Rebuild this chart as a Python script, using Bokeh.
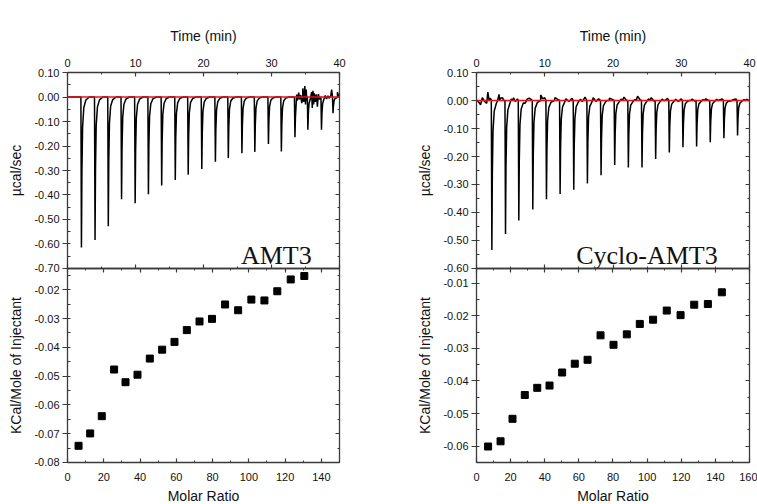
from bokeh.plotting import figure
from bokeh.models import (LinearAxis, Range1d, SingleIntervalTicker,
                          NumeralTickFormatter, CustomJSTickFormatter, Label, Span)
from bokeh.layouts import row, column
from bokeh.embed import file_html
from bokeh.resources import INLINE

# ---------------- data ----------------
# AMT3 thermogram: injection times (min) and peak minima (ucal/sec)
amt3_inj_time = [2.0, 4.0, 5.95, 7.9, 9.9, 11.85, 13.8, 15.8, 17.7, 19.7,
                 21.7, 23.6, 25.6, 27.5, 29.5, 31.4, 33.4, 35.3, 37.3, 39.0]
amt3_peak = [-0.614, -0.584, -0.528, -0.417, -0.434, -0.397, -0.361, -0.339,
             -0.317, -0.294, -0.264, -0.249, -0.230, -0.224, -0.192, -0.222,
             -0.164, -0.134, -0.134, -0.066]
amt3_noise_time = [33.7, 33.85, 34.0, 34.15, 34.3, 34.45, 34.6, 34.75, 34.9,
                   35.0, 35.1, 35.2, 35.9, 36.0, 36.1, 36.2, 36.3, 36.45,
                   36.6, 36.75, 36.9, 37.05, 37.9, 38.1, 38.3, 38.5, 38.7,
                   38.85, 39.5, 39.7, 39.9]
amt3_noise_val = [0.01, -0.012, 0.018, -0.01, 0.008, -0.025, 0.035, -0.02,
                  0.045, -0.03, 0.03, -0.015, 0.02, -0.045, 0.025, -0.03,
                  0.015, -0.02, 0.01, -0.04, 0.012, -0.01, 0.006, -0.008,
                  0.005, -0.006, 0.004, 0.03, -0.005, 0.02, 0.0]
# AMT3 integrated heats
amt3_ratio = [6.1, 12.5, 18.9, 25.7, 32.0, 38.6, 45.4, 52.2, 59.0, 65.8,
              72.8, 79.7, 86.9, 94.1, 101.4, 108.6, 115.7, 123.1, 130.6]
amt3_heat = [-0.0742, -0.0699, -0.0639, -0.0477, -0.0521, -0.0495, -0.0439,
             -0.0408, -0.0381, -0.0340, -0.0310, -0.0301, -0.0251, -0.0271,
             -0.0234, -0.0237, -0.0205, -0.0164, -0.0152]

# Cyclo-AMT3 thermogram
cyc_inj_time = [2.2, 4.2, 6.15, 8.2, 10.2, 12.2, 14.2, 16.2, 18.2, 20.2,
                22.2, 24.2, 26.2, 28.2, 30.2, 32.2, 34.2, 36.2, 38.2]
cyc_peak = [-0.534, -0.477, -0.429, -0.389, -0.353, -0.334, -0.319, -0.296,
            -0.267, -0.230, -0.239, -0.239, -0.209, -0.186, -0.167, -0.164,
            -0.149, -0.135, -0.125]
cyc_noise_time = [0.1, 0.4, 0.6, 0.85, 1.1, 1.3, 1.5, 1.66, 1.85, 2.05,
                  3.1, 3.3, 3.5, 3.8, 4.0, 5.1, 5.4, 5.7, 6.0,
                  7.1, 7.4, 7.7, 8.0, 9.1, 9.4, 9.7, 10.0,
                  11.1, 11.5, 11.9, 13.1, 13.6, 14.0, 15.2, 15.5, 15.9,
                  17.1, 17.5, 17.9, 19.1, 19.5, 19.9, 21.2, 21.6, 22.0,
                  23.2, 23.6, 24.0, 25.2, 25.6, 26.0, 27.2, 27.6, 28.0,
                  29.2, 29.6, 30.0, 31.2, 31.6, 32.0, 33.2, 33.6, 34.0,
                  35.2, 35.6, 36.0, 37.2, 37.6, 38.0, 39.2, 39.6, 39.9]
cyc_noise_val = [0.0, -0.008, -0.015, 0.01, 0.0, -0.006, -0.01, 0.03, 0.0, 0.008,
                 0.0, 0.022, 0.008, 0.01, 0.0, 0.005, 0.01, -0.004, 0.006,
                 -0.01, 0.005, 0.008, 0.004, -0.004, 0.02, 0.006, 0.01,
                 -0.004, 0.01, 0.004, 0.006, -0.003, 0.008, 0.004, -0.004, 0.012,
                 0.01, -0.003, 0.006, 0.0, 0.008, 0.004, 0.005, 0.012, 0.0,
                 0.004, 0.015, 0.002, 0.006, 0.01, -0.002, 0.005, 0.0, 0.008,
                 0.004, -0.003, 0.006, 0.0, 0.005, -0.002, 0.003, 0.006, 0.0,
                 0.004, 0.002, 0.006, -0.002, 0.003, 0.005, 0.003, 0.004, 0.0]
# Cyclo-AMT3 integrated heats
cyc_ratio = [6.8, 14.1, 21.1, 28.3, 35.6, 42.8, 50.2, 57.6, 65.1, 72.7,
             80.3, 88.1, 95.7, 103.5, 111.5, 119.6, 127.6, 135.6, 143.8]
cyc_heat = [-0.0601, -0.0585, -0.0516, -0.0443, -0.0421, -0.0414, -0.0374,
            -0.0347, -0.0335, -0.0260, -0.0289, -0.0257, -0.0225, -0.0212,
            -0.0184, -0.0198, -0.0166, -0.0164, -0.0128]

baseline_level = 0.0

# ---------------- styling ----------------
FRAME = "#3a3a3a"
SANS = "Liberation Sans"
SERIF = "Liberation Serif"
TICK_FS = "11px"
LABEL_FS = "14px"
EPS = 1e-5
GAP = 8   # spare border between stacked panels (overlapped via negative margin)

# peak shape used to draw each injection (relative time, fraction of depth)
PEAK_DT = [-0.03, 0.05, 0.12, 0.22, 0.4, 0.7, 1.2]
PEAK_FRAC = [0.0, 1.0, 0.5, 0.2, 0.07, 0.02, 0.0]


def build_trace(inj_t, depth, nt, nv, t_end):
    pts = [(0.0, 0.0), (t_end, 0.0)]
    for t, d in zip(inj_t, depth):
        for dt, f in zip(PEAK_DT, PEAK_FRAC):
            pts.append((t + dt, d * f))
    pts += list(zip(nt, nv))
    pts.sort()
    return [p[0] for p in pts], [p[1] for p in pts]


def style_axis(ax, show_labels, major_in, major_out, minor_in,
               fmt=None, label_standoff=4):
    ax.axis_line_color = FRAME
    ax.axis_line_width = 1.3
    ax.major_tick_line_color = FRAME
    ax.minor_tick_line_color = FRAME
    ax.major_tick_line_width = 1.2
    ax.minor_tick_line_width = 1.0
    ax.major_tick_in = major_in
    ax.major_tick_out = major_out
    ax.minor_tick_in = minor_in
    ax.minor_tick_out = 0
    ax.major_label_text_font = SANS
    ax.major_label_text_color = "#111111"
    ax.axis_label_text_font = SANS
    ax.axis_label_text_font_size = LABEL_FS
    ax.axis_label_text_font_style = "normal"
    ax.axis_label_text_color = "#111111"
    if show_labels:
        if fmt is not None:
            ax.formatter = NumeralTickFormatter(format=fmt)
        ax.major_label_text_font_size = TICK_FS
        ax.major_label_standoff = label_standoff
    else:
        ax.formatter = CustomJSTickFormatter(code="return '';")
        ax.major_label_text_font_size = "0px"
        ax.major_label_standoff = 0
        ax.axis_label_standoff = 0


def make_top(inj_t, depth, nt, nv, yr, left_border, right_border,
             frame_w, label_text, label_x, label_y):
    p = figure(x_range=Range1d(0, 40), y_range=Range1d(yr[0] - EPS, yr[1] + EPS),
               frame_width=frame_w, frame_height=196,
               min_border_left=left_border, min_border_right=right_border,
               min_border_top=72, min_border_bottom=GAP,
               x_axis_location="above", output_backend="svg",
               toolbar_location=None, tools="")
    p.outline_line_color = None
    p.xgrid.visible = False
    p.ygrid.visible = False
    p.background_fill_color = "white"
    p.border_fill_color = "white"

    p.xaxis.ticker = SingleIntervalTicker(interval=10, num_minor_ticks=2)
    p.xaxis.axis_label = "Time (min)"
    style_axis(p.xaxis[0], True, 4, 0, 2, fmt="0", label_standoff=6)
    p.xaxis.axis_label_standoff = 12

    p.yaxis.ticker = SingleIntervalTicker(interval=0.1, num_minor_ticks=2)
    p.yaxis.axis_label = "\u00b5cal/sec"
    style_axis(p.yaxis[0], True, 0, 5, 3, fmt="0.00", label_standoff=3)
    p.yaxis.axis_label_standoff = 7

    bx = LinearAxis(ticker=SingleIntervalTicker(interval=10, num_minor_ticks=2))
    style_axis(bx, False, 4, 0, 2)
    p.add_layout(bx, "below")
    ry = LinearAxis(ticker=SingleIntervalTicker(interval=0.1, num_minor_ticks=2))
    style_axis(ry, False, 4, 0, 2)
    p.add_layout(ry, "right")

    tx, ty = build_trace(inj_t, depth, nt, nv, 40.0)
    p.line(tx, ty, line_color="black", line_width=1.5)
    p.add_layout(Span(location=baseline_level, dimension="width",
                      line_color="#e8101a", line_width=1.4))
    p.add_layout(Label(x=label_x, y=label_y, text=label_text,
                       text_font=SERIF, text_font_size="26px",
                       text_color="#111111", text_baseline="alphabetic"))
    return p


def make_bottom(xs, ys, xr, yr, x_int, left_border, right_border, frame_w):
    p = figure(x_range=Range1d(xr[0], xr[1] + EPS), y_range=Range1d(yr[0] - 1e-7, yr[1]),
               frame_width=frame_w, frame_height=194,
               min_border_left=left_border, min_border_right=right_border,
               min_border_top=GAP, min_border_bottom=42,
               output_backend="svg", toolbar_location=None, tools="")
    p.outline_line_color = None
    p.xgrid.visible = False
    p.ygrid.visible = False
    p.background_fill_color = None
    p.border_fill_color = None
    p.styles = {"margin-top": f"-{2 * GAP}px"}

    p.xaxis.ticker = SingleIntervalTicker(interval=x_int, num_minor_ticks=2)
    p.xaxis.axis_label = "Molar Ratio"
    style_axis(p.xaxis[0], True, 4, 0, 2, fmt="0", label_standoff=10)
    p.xaxis.axis_label_standoff = 4

    p.yaxis.ticker = SingleIntervalTicker(interval=0.01, num_minor_ticks=2)
    p.yaxis.axis_label = "KCal/Mole of Injectant"
    style_axis(p.yaxis[0], True, 0, 5, 3, fmt="0.00", label_standoff=3)
    p.yaxis.axis_label_standoff = 7

    tx = LinearAxis(ticker=SingleIntervalTicker(interval=x_int, num_minor_ticks=2))
    style_axis(tx, False, 4, 0, 2)
    p.add_layout(tx, "above")
    ry = LinearAxis(ticker=SingleIntervalTicker(interval=0.01, num_minor_ticks=2))
    style_axis(ry, False, 4, 0, 2)
    p.add_layout(ry, "right")

    p.scatter(xs, ys, marker="square", size=7, fill_color="black",
              line_color="black")
    return p


LEFT_W = 389
tl = make_top(amt3_inj_time, amt3_peak, amt3_noise_time, amt3_noise_val,
              (-0.7, 0.1), 67, LEFT_W - 67 - 272, 272,
              "AMT3", 25.5, -0.645)
bl = make_bottom(amt3_ratio, amt3_heat, (0, 150), (-0.08, -0.0126), 20,
                 67, LEFT_W - 67 - 272, 272)

tr = make_top(cyc_inj_time, cyc_peak, cyc_noise_time, cyc_noise_val,
              (-0.6, 0.1), 476 - LEFT_W, 8, 273,
              "Cyclo-AMT3", 14.6, -0.552)
br = make_bottom(cyc_ratio, cyc_heat, (0, 160), (-0.065, -0.0055), 20,
                 476 - LEFT_W, 8, 273)

layout = row(column(tl, bl), column(tr, br))

open("out.html", "w").write(file_html(layout, INLINE))
